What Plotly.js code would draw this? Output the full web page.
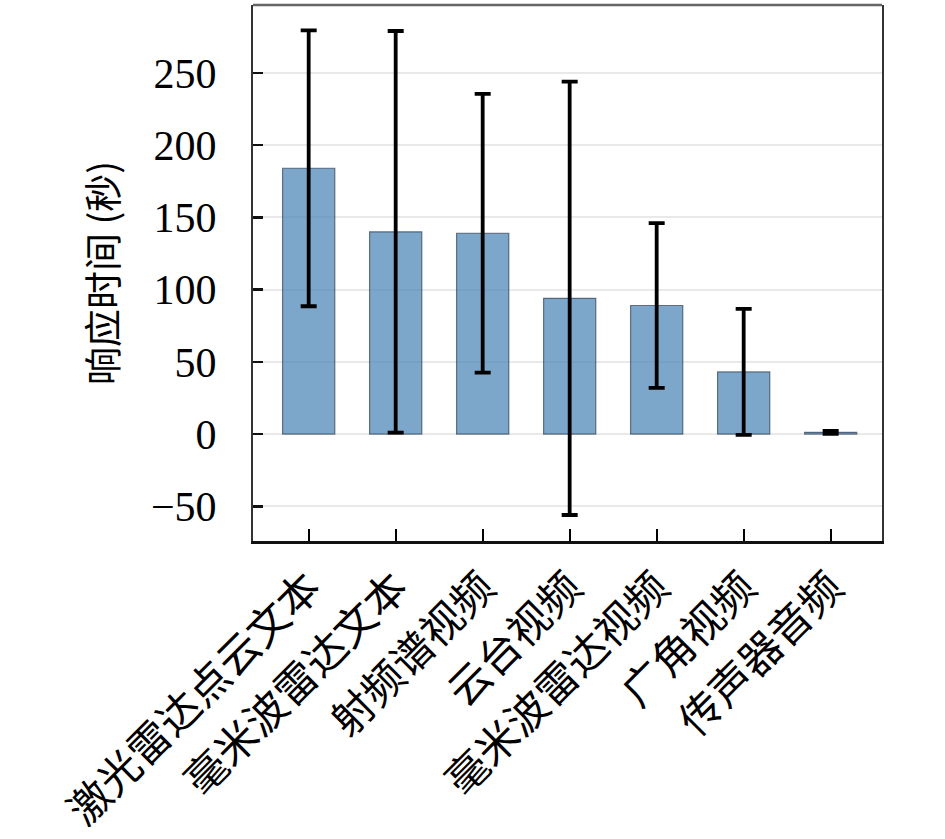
<!DOCTYPE html>
<html>
<head>
<meta charset="utf-8">
<script src="https://cdn.plot.ly/plotly-3.0.1.min.js"></script>
<style>
  html, body { margin: 0; padding: 0; background: #fff; }
  #graph { width: 945px; height: 839px; }
</style>
</head>
<body>
<div id="graph"></div>
<script>
/* ---------------- chart data ---------------- */

var categories = ['激光雷达点云文本', '毫米波雷达文本', '射频谱视频', '云台视频',
                  '毫米波雷达视频', '广角视频', '传声器音频'];
var meanTime = [184, 140, 139, 94, 89, 43, 1.2];   // response time, seconds
var stdTime = [95.5, 139, 96.5, 150, 57, 43.6, 1]; // error bar half-length
var yTickVals = [-50, 0, 50, 100, 150, 200, 250];
var yTickText = ['\u221250', '0', '50', '100', '150', '200', '250'];

var serif = '"Liberation Serif", "DejaVu Serif", serif';
var cjk = '"Noto Sans CJK SC", sans-serif';

var bars = {
    type: 'bar',
    x: categories,
    y: meanTime,
    width: 0.6,
    marker: {
        color: 'rgba(70,130,180,0.7)',
        line: { color: 'rgba(40,55,75,0.65)', width: 1.2 }
    },
    error_y: {
        type: 'data',
        array: stdTime,
        visible: true,
        color: '#000',
        thickness: 3.8,
        width: 8
    },
    hoverinfo: 'none'
};

var layout = {
    width: 945,
    height: 839,
    showlegend: false,
    paper_bgcolor: '#fff',
    plot_bgcolor: '#fff',
    margin: { l: 253, r: 63, t: 5, b: 298, pad: 0 },
    xaxis: {
        type: 'category',
        range: [-0.64, 6.59],
        autorange: false,
        tickangle: -45,
        tickfont: { family: cjk, size: 42, color: '#000' },
        ticks: 'inside',
        ticklen: 12,
        tickwidth: 2,
        tickcolor: '#000',
        ticklabelstandoff: 2,
        showline: true,
        linecolor: '#111',
        linewidth: 3,
        showgrid: false,
        zeroline: false,
        automargin: false
    },
    yaxis: {
        range: [-74, 297],
        autorange: false,
        tickvals: yTickVals,
        ticktext: yTickText,
        tickfont: { family: serif, size: 42, color: '#000' },
        ticks: 'inside',
        ticklen: 10,
        tickwidth: 2.5,
        tickcolor: '#111',
        ticklabelstandoff: 26,
        showline: true,
        mirror: true,
        linecolor: '#333',
        linewidth: 2,
        showgrid: true,
        gridcolor: '#e9e9e9',
        gridwidth: 2,
        zeroline: false,
        automargin: false,
        title: {
            text: '响应时间 (秒)',
            font: { family: cjk, size: 38, color: '#000' },
            standoff: 22
        }
    },
    shapes: [{
        type: 'line', xref: 'paper', yref: 'paper',
        x0: 0, x1: 1, y0: 1, y1: 1,
        line: { color: '#666', width: 2.5 }
    }]
};

Plotly.newPlot('graph', [bars], layout, { staticPlot: true });
</script>
</body>
</html>
